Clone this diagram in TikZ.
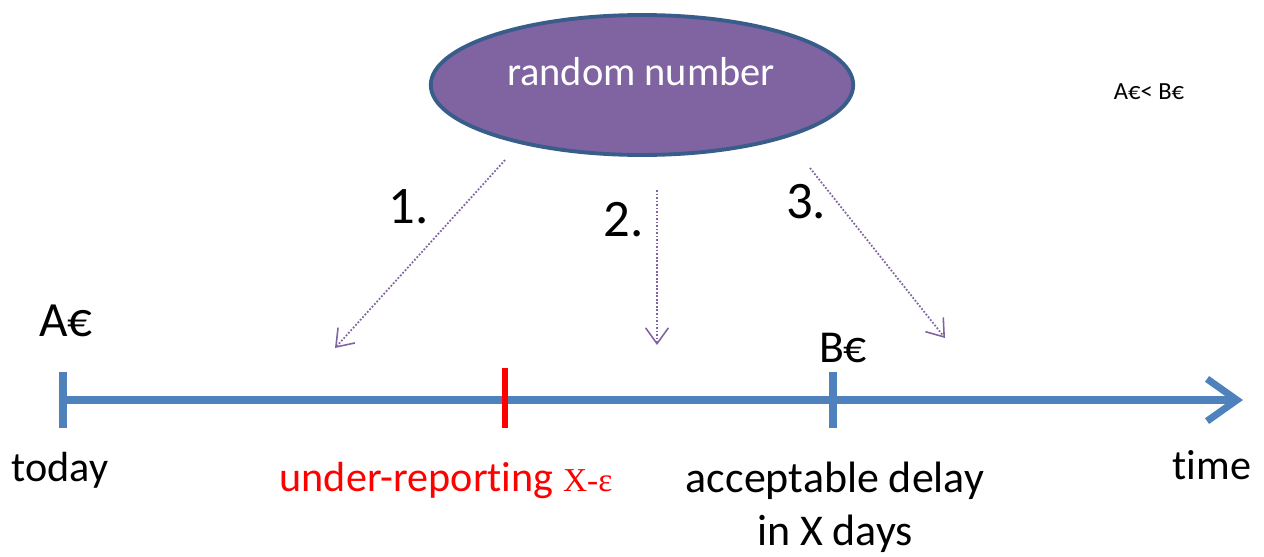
\documentclass[tikz,border=0pt]{standalone}
\usepackage{fontspec}
\setmainfont{Carlito}[Ligatures=NoCommon]
\newfontfamily\serifx{Liberation Serif}
\usepackage{xcolor}
\usetikzlibrary{calc,positioning,arrows.meta,shapes}

\definecolor{lineblue}{HTML}{4F81BD}
\definecolor{ovalfill}{HTML}{8064A2}
\definecolor{ovaledge}{HTML}{385D8A}

\tikzset{
    big/.style={font=\fontsize{24}{27}\selectfont},
    num/.style={font=\fontsize{30}{33}\selectfont},
    guess/.style={ovalfill, densely dotted, line width=1pt,
        -{Straight Barb[length=9pt, width=13pt, line width=0.9pt]}},
    tick/.style={lineblue, line width=4pt}
}

\begin{document}
\begin{tikzpicture}[x=0.02cm, y=0.02cm]
    \useasboundingbox (0,0) rectangle (1264,556);

        %%oval
        \node[ellipse, draw=ovaledge, line width=2.2pt, fill=ovalfill,
            minimum width=8.45cm, minimum height=2.8cm,
            inner sep=0pt] (rnd) at (642,471){};
            \node[font=\fontsize{23}{26}\selectfont, text=white] (rndtext) at (641,484){random number};
        \node[font=\fontsize{14}{16}\selectfont] (cmp) at (1149,464){A€< B€};

        %%time line
        \coordinate (start) at (63,156);
        \coordinate (end) at (1243,156);
            \draw[lineblue, line width=4pt,
                -{Straight Barb[length=17pt, width=24pt, line width=4pt]}]
                (start) to (end);
        \coordinate (bpos) at (833,156);
        \coordinate (upos) at (505,158);
            \draw[tick] ($(start)+(0,28)$) to ($(start)+(0,-28)$);
            \draw[tick] ($(bpos)+(0,28)$) to ($(bpos)+(0,-28)$);
            \draw[red, line width=3.5pt] ($(upos)+(0,30)$) to ($(upos)+(0,-30)$);

        %%labels
            \node[font=\fontsize{28}{30}\selectfont] (aeur) at (66,235){A€};
            \node[font=\fontsize{26}{28}\selectfont] (beur) at (843,208){B€};
            \node[big] (today) at (60,86){today};
            \node[big] (time) at (1212,91){time};
            \node[big, text=red] (under) at (446,76)
                {under-reporting {\serifx\fontsize{19}{22}\selectfont X-ε}};
            \node[font=\fontsize{25}{28}\selectfont, align=center] (delay) at (835,49)
                {acceptable delay\\[2pt] in X days};

        %%arrows
            \coordinate (a1) at (505,396);
            \coordinate (b1) at (335,208);
            \coordinate (a2) at (657,366);
            \coordinate (b2) at (657,211);
            \coordinate (a3) at (810,388);
            \coordinate (b3) at (945,218);
                \draw[guess] (a1) to (b1);
                \draw[guess] (a2) to (b2);
                \draw[guess] (a3) to (b3);
            \node[num] (n1) at (409,349){1.};
            \node[num] (n2) at (624,336){2.};
            \node[num] (n3) at (806,354){3.};
    \end{tikzpicture}
\end{document}
